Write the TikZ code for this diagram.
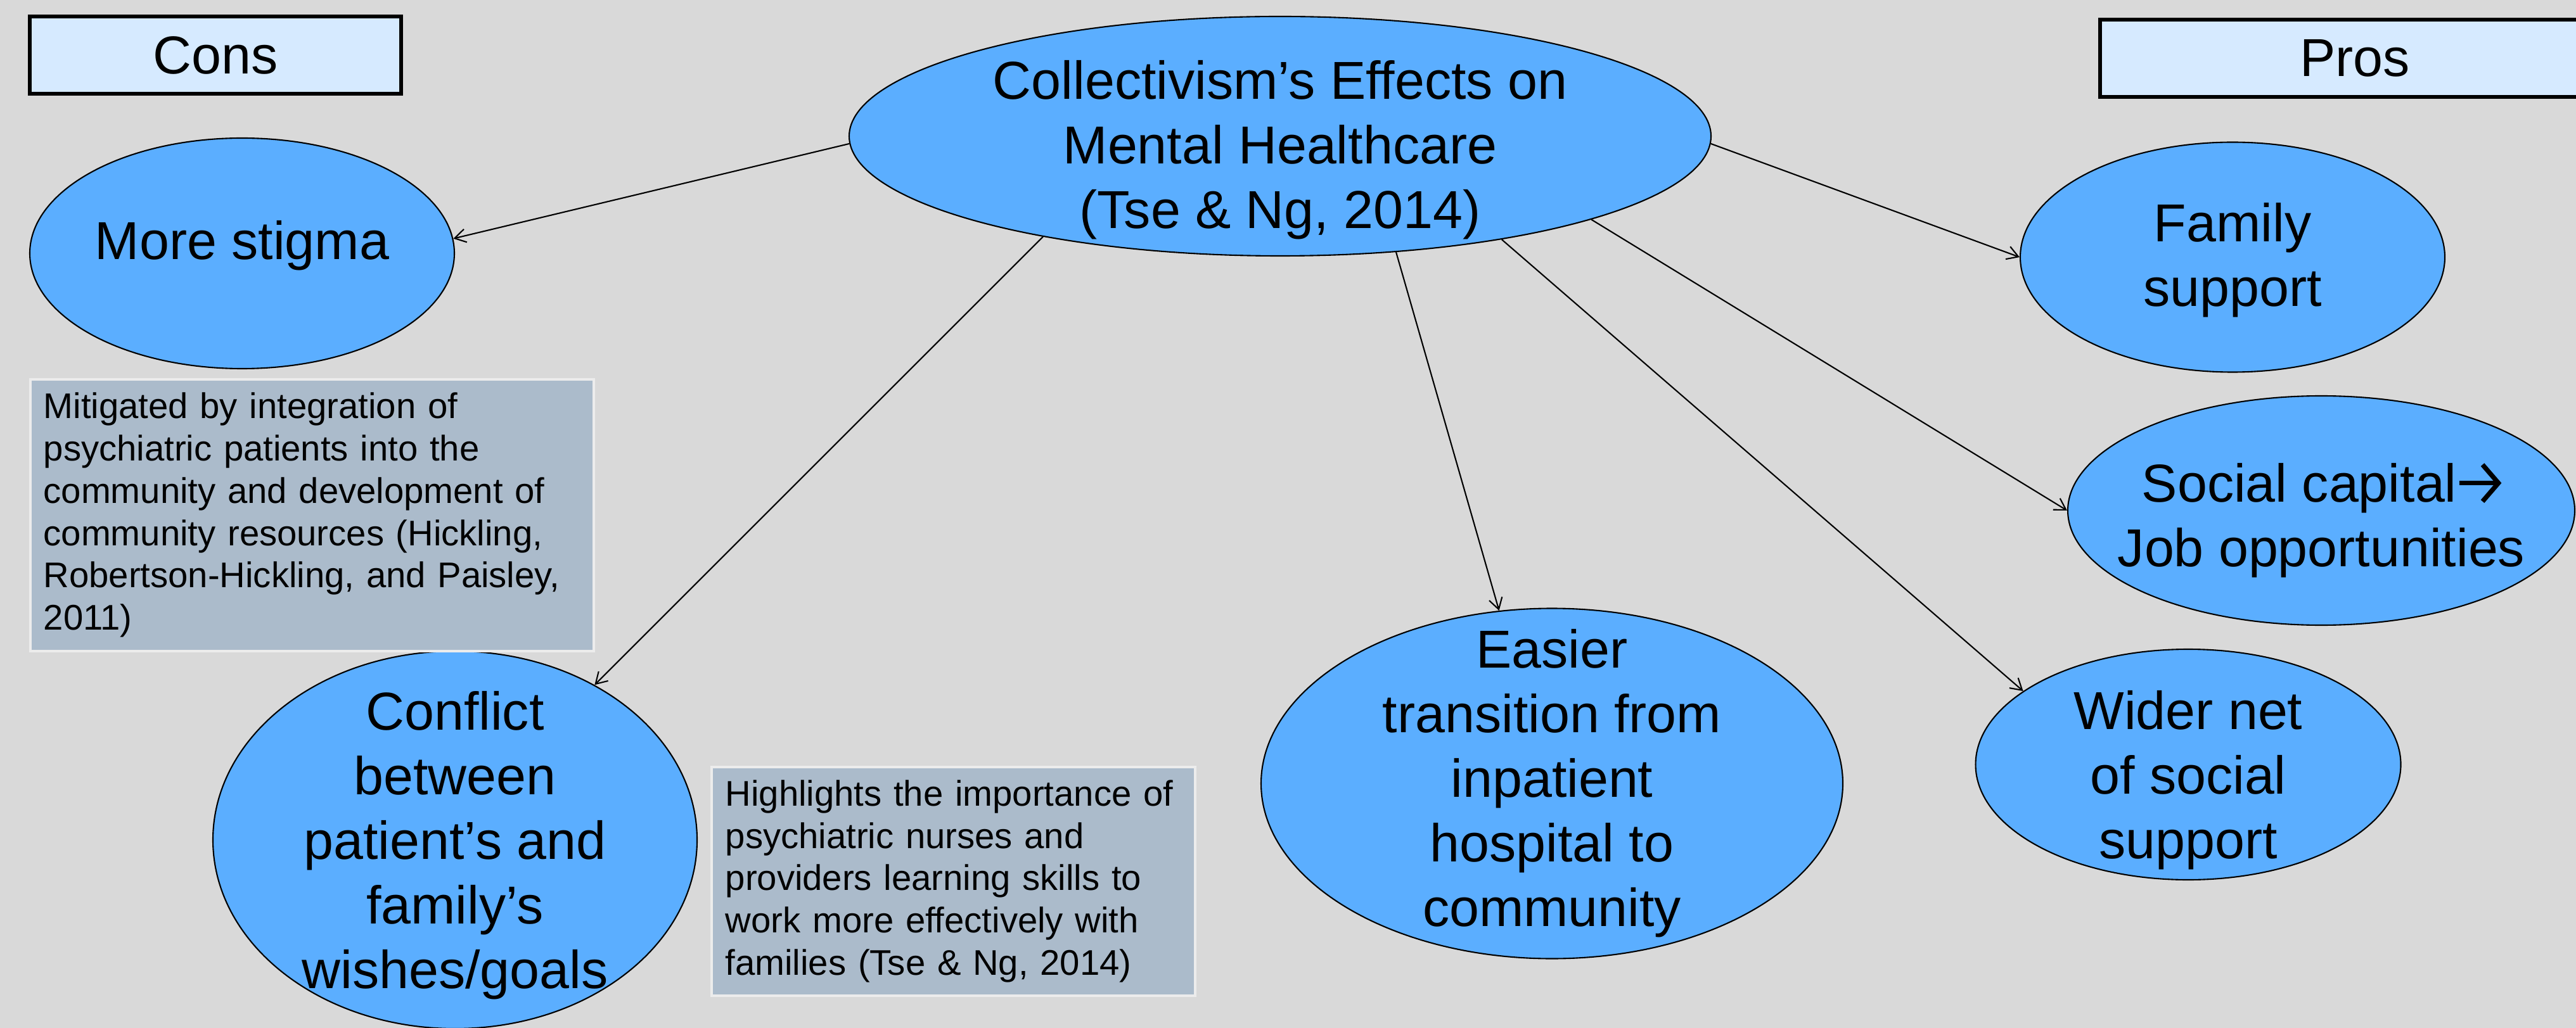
\documentclass[tikz,border=0pt]{standalone}
\usepackage{fontspec}
\setmainfont{Liberation Sans}
\usepackage{xcolor}
\usepackage{tikz}
\usetikzlibrary{shapes.geometric,arrows.meta}

\definecolor{slidebg}{RGB}{217,217,217}
\definecolor{bubblefill}{RGB}{91,174,255}
\definecolor{headfill}{RGB}{214,234,255}
\definecolor{notefill}{RGB}{171,187,203}
\definecolor{noteline}{RGB}{236,236,236}

\tikzset{
  bubble/.style={ellipse, draw=black, line width=0.6pt, fill=bubblefill, inner sep=0pt},
  bubbletext/.style={align=center, inner sep=0pt, font=\fontsize{24}{29}\selectfont},
  headbox/.style={draw=black, line width=1.6pt, fill=headfill, inner sep=0pt, font=\fontsize{24}{29}\selectfont},
  notebox/.style={draw=noteline, line width=1pt, fill=notefill, anchor=north west, align=left, inner ysep=0pt, font=\fontsize{16}{19}\selectfont},
  link/.style={-{Straight Barb[length=5pt,width=6pt]}, line width=0.6pt},
}

% cap-height arrow as in "Social capital ->"
\newcommand{\capsarrow}{\tikz[baseline=0pt]{\draw[line width=2.1pt] (0.06,0.30) -- (0.66,0.30);
  \draw[line width=2.1pt, line join=miter] (0.43,0.59) -- (0.68,0.30) -- (0.43,0.01);}}

\begin{document}
\begin{tikzpicture}
  \useasboundingbox (0,0) rectangle (40.65,-16.23);
  \clip (0,0) rectangle (40.65,-16.23);
  \fill[slidebg] (0,0) rectangle (40.65,-16.23);

  % headings
  \node[headbox, minimum width=5.86cm, minimum height=1.22cm] (cons) at (3.40,-0.87) {Cons};
  \node[headbox, minimum width=8.04cm, minimum height=1.22cm] (pros) at (37.16,-0.92) {Pros};

  % bubbles
  \node[bubble, minimum width=13.60cm, minimum height=3.78cm,
        label={[bubbletext, yshift=-0.22cm]center:Collectivism’s Effects on\\Mental Healthcare\\(Tse \& Ng, 2014)}] (main) at (20.20,-2.15) {};
  \node[bubble, minimum width=6.70cm, minimum height=3.64cm,
        label={[bubbletext, yshift=0.12cm]center:More stigma}] (stigma) at (3.82,-4.00) {};
  \node[bubble, minimum width=7.64cm, minimum height=5.96cm,
        label={[bubbletext, yshift=-0.09cm]center:Conflict\\between\\patient’s and\\family’s\\wishes/goals}] (conflict) at (7.18,-13.26) {};
  \node[bubble, minimum width=9.18cm, minimum height=5.53cm,
        label={[bubbletext]center:Easier\\transition from\\inpatient\\hospital to\\community}] (easier) at (24.49,-12.37) {};
  \node[bubble, minimum width=6.70cm, minimum height=3.63cm,
        label={[bubbletext, yshift=-0.05cm]center:Family\\support}] (family) at (35.23,-4.06) {};
  \node[bubble, minimum width=8.00cm, minimum height=3.62cm,
        label={[bubbletext, yshift=-0.15cm]center:Social capital\capsarrow\\Job opportunities}] (social) at (36.63,-8.06) {};
  \node[bubble, minimum width=6.71cm, minimum height=3.64cm,
        label={[bubbletext, yshift=-0.25cm]center:Wider net\\of social\\support}] (wider) at (34.53,-12.07) {};

  % notes
  \node[notebox, text width=8.47cm, inner xsep=0.21cm, minimum height=4.29cm] (mitigated) at (0.46,-5.97)
    {Mitigated by integration of\\psychiatric patients into the\\community and development of\\community resources (Hickling,\\Robertson-Hickling, and Paisley,\\2011)};
  \node[notebox, text width=7.19cm, inner xsep=0.22cm, minimum height=3.61cm] (highlights) at (11.21,-12.09)
    {Highlights the importance of\\psychiatric nurses and\\providers learning skills to\\work more effectively with\\families (Tse \& Ng, 2014)};

  % effects
  \draw[link] (main.181) -- (stigma.4);
  \draw[link] (main.203) -- (conflict.48);
  \draw[link] (main.315) -- (easier.107);
  \draw[link] (main.335) -- (wider.156);
  \draw[link] (main.345) -- (social.west);
  \draw[link] (main.359) -- (family.west);
\end{tikzpicture}
\end{document}
